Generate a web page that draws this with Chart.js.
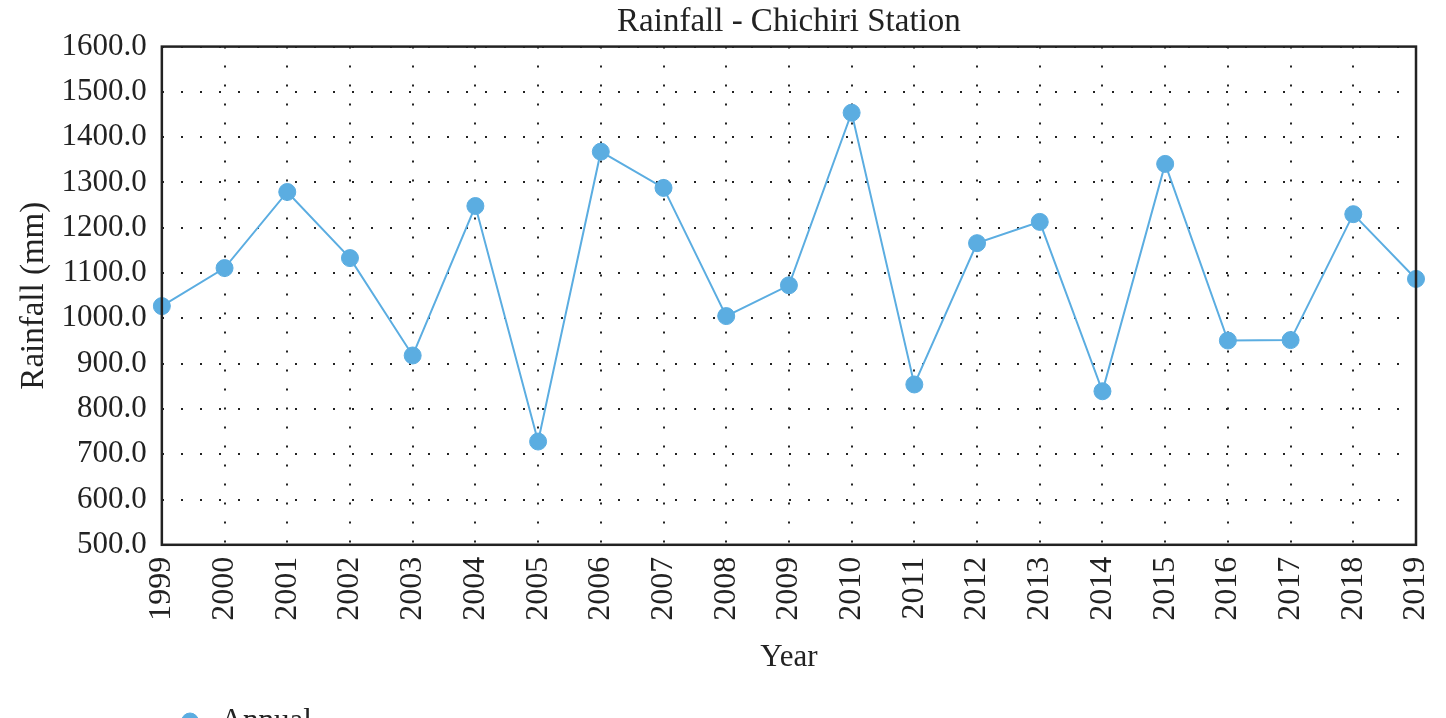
<!DOCTYPE html>
<html>
<head>
<meta charset="utf-8">
<script src="https://cdn.jsdelivr.net/npm/chart.js@4/dist/chart.umd.min.js"></script>
<style>
  html, body { margin: 0; padding: 0; background: #fff; overflow: hidden; width: 1446px; height: 718px; }
  canvas { display: block; }
</style>
</head>
<body>
<canvas id="grafico" width="1446" height="747"></canvas>
<script>
// dados do gráfico
const anos = ['1999', '2000', '2001', '2002', '2003', '2004', '2005', '2006', '2007', '2008', '2009',
              '2010', '2011', '2012', '2013', '2014', '2015', '2016', '2017', '2018', '2019'];
const chuvaAnual = [1027, 1111, 1279, 1133, 918, 1248, 728, 1368, 1288, 1005, 1073,
                    1454, 854, 1166, 1213, 839, 1341, 951, 952, 1230, 1087];
const yMin = 500;
const yMax = 1600;
const yPasso = 100;

const serif = "'Liberation Serif', 'Times New Roman', serif";
const azul = '#5BADE1';
const preto = '#222';

// moldura em volta da área do gráfico
const moldura = {
    id: 'moldura',
    afterDraw(chart) {
        const a = chart.chartArea;
        const ctx = chart.ctx;
        ctx.save();
        ctx.strokeStyle = preto;
        ctx.lineWidth = 2.5;
        ctx.strokeRect(a.left, a.top, a.right - a.left, a.bottom - a.top);
        ctx.restore();
    }
};

// empurra a legenda para a direita, como na figura
const legendaDesloc = {
    id: 'legendaDesloc',
    afterLayout(chart) {
        chart.legend.left += 165;
        chart.legend.right += 165;
    }
};

const ctx = document.getElementById('grafico').getContext('2d');
new Chart(ctx, {
    type: 'line',
    data: {
        labels: anos,
        datasets: [{
            label: 'Annual',
            data: chuvaAnual,
            borderColor: azul,
            backgroundColor: azul,
            pointBackgroundColor: azul,
            pointBorderColor: azul,
            pointRadius: 8.5,
            pointBorderWidth: 1,
            borderWidth: 2,
            tension: 0,
            fill: false
        }]
    },
    options: {
        responsive: false,
        animation: false,
        layout: { padding: { left: 0, right: 30, top: 0, bottom: 0 } },
        plugins: {
            title: {
                display: true,
                fullSize: false,
                text: 'Rainfall - Chichiri Station',
                color: preto,
                font: { family: serif, size: 33, weight: 'normal' },
                padding: { top: 3, bottom: 4 }
            },
            legend: {
                display: true,
                position: 'bottom',
                align: 'start',
                labels: {
                    color: preto,
                    font: { family: serif, size: 31 },
                    usePointStyle: true,
                    pointStyle: 'circle',
                    boxWidth: 30,
                    boxHeight: 12,
                    padding: 10
                }
            },
            tooltip: { enabled: false }
        },
        scales: {
            x: {
                offset: false,
                // o rótulo 2019 pode passar da área, não precisa de espaço extra
                afterFit: (s) => { s.paddingRight = 0; },
                title: {
                    display: true,
                    text: 'Year',
                    color: preto,
                    font: { family: serif, size: 31 },
                    padding: { top: 6, bottom: 20 }
                },
                ticks: {
                    color: preto,
                    font: { family: serif, size: 32 },
                    maxRotation: 90,
                    minRotation: 90,
                    padding: 12,
                    autoSkip: false
                },
                grid: {
                    color: preto,
                    lineWidth: 2,
                    drawTicks: false
                },
                border: { display: false, dash: [2, 17] }
            },
            y: {
                min: yMin,
                max: yMax,
                title: {
                    display: true,
                    text: 'Rainfall (mm)',
                    color: preto,
                    font: { family: serif, size: 33 },
                    padding: { top: 15, bottom: -8 }
                },
                ticks: {
                    stepSize: yPasso,
                    color: preto,
                    font: { family: serif, size: 31 },
                    padding: 15,
                    callback: (v) => Number(v).toFixed(1)
                },
                grid: {
                    color: preto,
                    lineWidth: 2,
                    drawTicks: false
                },
                border: { display: false, dash: [2, 17] }
            }
        }
    },
    plugins: [moldura, legendaDesloc]
});
</script>
</body>
</html>
